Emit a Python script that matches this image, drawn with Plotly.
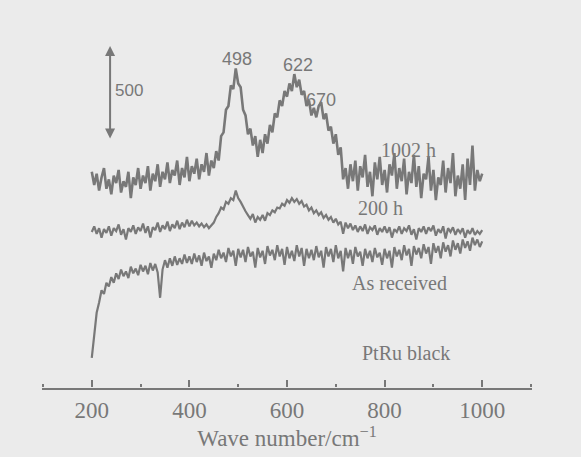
import plotly.graph_objects as go

# Raman shift axis (cm^-1), sampled every 5 cm^-1 from 200 to 1000
wavenumber = list(range(200, 1001, 5))

# Intensity (counts, vertically offset traces)
h1002 = [
    1150, 1080, 1140, 1050, 1120, 1170, 1060, 1110, 1030, 1130,
    1090, 1160, 1040, 1100, 1070, 1150, 1010, 1120, 1080, 1170,
    1060, 1130, 1090, 1180, 1050, 1140, 1100, 1190, 1070, 1150,
    1110, 1200, 1090, 1160, 1130, 1210, 1080, 1170, 1120, 1230,
    1100, 1180, 1140, 1220, 1110, 1190, 1150, 1250, 1130, 1210,
    1170, 1260, 1210, 1340, 1360, 1480, 1500, 1610, 1590, 1700,
    1620, 1600, 1480, 1450, 1350, 1380, 1290, 1340, 1230, 1320,
    1250, 1350, 1300, 1400, 1360, 1460, 1440, 1530, 1500, 1580,
    1550, 1620, 1580, 1670, 1600, 1640, 1560, 1580, 1500, 1530,
    1450, 1490, 1440, 1500, 1520, 1430, 1460, 1370, 1390, 1300,
    1350, 1240, 1280, 1110, 1170, 1060, 1190, 1100, 1210, 1050,
    1180, 1120, 1240, 1070, 1150, 1020, 1200, 1110, 1230, 1080,
    1160, 1040, 1190, 1130, 1250, 1060, 1170, 1100, 1220, 1030,
    1150, 1090, 1240, 1070, 1180, 1010, 1140, 1110, 1230, 1050,
    1160, 1000, 1120, 1080, 1210, 1040, 1170, 1090, 1250, 1020,
    1130, 1060, 1190, 1000, 1220, 1080, 1290, 1050, 1160, 1100,
    1140,
]

h200 = [
    830, 860, 820, 850, 800, 845, 825, 860, 810, 850,
    835, 870, 815, 845, 790, 850, 830, 865, 820, 855,
    835, 875, 825, 860, 800, 855, 840, 880, 830, 865,
    845, 885, 835, 870, 850, 890, 845, 880, 855, 895,
    860, 890, 865, 880, 860, 875, 855, 870, 850, 865,
    880, 910, 930, 960, 950, 990, 980, 1010, 1000, 1050,
    1010, 990, 960, 940, 920, 900, 925, 880, 910, 895,
    920, 890, 930, 920, 945, 935, 960, 955, 980, 970,
    1000, 985, 1010, 990, 1005, 980, 995, 965, 975, 945,
    960, 930, 945, 920, 935, 905, 920, 895, 910, 880,
    900, 870, 885, 820, 880, 850, 875, 840, 865, 830,
    860, 835, 870, 820, 855, 840, 865, 815, 850, 830,
    860, 825, 855, 800, 845, 830, 860, 820, 850, 835,
    865, 815, 845, 790, 850, 830, 860, 820, 855, 835,
    865, 810, 845, 825, 860, 795, 850, 830, 855, 815,
    845, 825, 850, 800, 840, 820, 850, 815, 835, 820,
    840,
]

as_received = [
    160, 270, 400, 455, 520, 500, 560, 540, 590, 560,
    610, 580, 630, 595, 620, 585, 645, 610, 635, 600,
    655, 620, 650, 605, 665, 625, 660, 615, 480, 630,
    680, 640, 690, 650, 700, 655, 690, 660, 710, 665,
    700, 660, 715, 670, 705, 650, 720, 675, 700, 640,
    715, 680, 735, 690, 720, 670, 745, 700, 730, 650,
    740, 695, 735, 670, 750, 700, 725, 640, 745, 695,
    730, 660, 755, 705, 735, 680, 760, 700, 740, 655,
    750, 690, 730, 675, 760, 700, 745, 650, 740, 690,
    735, 680, 755, 695, 730, 640, 750, 700, 740, 670,
    760, 690, 730, 620, 745, 690, 735, 660, 750, 700,
    725, 650, 740, 690, 730, 670, 745, 695, 720, 655,
    740, 690, 730, 640, 750, 700, 735, 680, 760, 705,
    740, 650, 755, 710, 745, 690, 765, 715, 750, 660,
    770, 720, 755, 690, 775, 725, 760, 700, 785, 735,
    770, 715, 790, 745, 780, 730, 800, 760, 790, 750,
    780,
]

assert len(h1002) == len(wavenumber) == len(h200) == len(as_received)

series_names = ["1002 h", "200 h", "As received"]
series_widths = [2.6, 2.2, 2.2]
peak_positions = [498, 622, 670]
peak_labels = ["498", "622", "670"]
major_ticks = [200, 400, 600, 800, 1000]
minor_ticks = [100, 300, 500, 700, 900, 1100]
scale_bar_counts = 500

INK = "#787878"
BG = "#ebebeb"
SERIF = "Liberation Serif, Times New Roman, serif"
SANS = "Liberation Sans, Arial, sans-serif"
X_RANGE = [98, 1102]
X_DOMAIN = [42 / 581, 532 / 581]

fig = go.Figure()
for name, ys, w in zip(series_names, [h1002, h200, as_received], series_widths):
    fig.add_trace(go.Scatter(x=wavenumber, y=ys, mode="lines", name=name,
                             line=dict(color=INK, width=w)))

# empty trace that registers the thin tick-strip subplot (x2/y2)
fig.add_trace(go.Scatter(x=[], y=[], xaxis="x2", yaxis="y2", mode="lines",
                         showlegend=False, hoverinfo="skip"))

# peak labels
peak_y = [1750, 1718, 1532]
for px, lab, py in zip(peak_positions, peak_labels, peak_y):
    fig.add_annotation(x=px, y=py, text=lab, showarrow=False,
                       font=dict(family=SANS, size=18, color=INK))

# series labels
label_xy = [(848, 1266), (791, 957), (830, 558)]
for (lx, ly), name in zip(label_xy, series_names):
    fig.add_annotation(x=lx, y=ly, text=name, showarrow=False,
                       font=dict(family=SERIF, size=20, color=INK))
fig.add_annotation(x=844, y=186, text="PtRu black", showarrow=False,
                   font=dict(family=SERIF, size=20, color=INK))

# 500-count scale bar
bar_x = 237.5
bar_top = 1819
fig.add_annotation(x=bar_x, y=bar_top, ax=bar_x, ay=bar_top - scale_bar_counts,
                   xref="x", yref="y", axref="x", ayref="y", text="",
                   showarrow=True, arrowhead=2, startarrowhead=2,
                   arrowside="end+start", arrowsize=1, arrowwidth=2,
                   arrowcolor=INK)
fig.add_annotation(x=276, y=1585, text=str(scale_bar_counts), showarrow=False,
                   font=dict(family=SANS, size=17, color=INK))

fig.update_layout(
    width=581, height=457,
    margin=dict(l=0, r=0, t=0, b=69),
    paper_bgcolor=BG, plot_bgcolor=BG,
    showlegend=False,
    xaxis=dict(
        domain=X_DOMAIN, range=X_RANGE,
        showline=True, linecolor=INK, linewidth=2,
        showgrid=False, zeroline=False,
        tickmode="array", tickvals=major_ticks,
        ticktext=[str(v) for v in major_ticks],
        ticks="", tickfont=dict(family=SERIF, size=23, color=INK),
        title=dict(text="Wave number/cm<sup>−1</sup>", standoff=4,
                   font=dict(family=SERIF, size=23, color=INK)),
    ),
    yaxis=dict(domain=[0, 1], range=[0, 2064], visible=False,
               showgrid=False, zeroline=False),
    # tick strip: a top-side axis sitting on the bottom edge, ticks point up
    xaxis2=dict(
        domain=X_DOMAIN, range=X_RANGE, anchor="y2", side="top",
        showline=False, showgrid=False, zeroline=False,
        tickmode="array", tickvals=major_ticks, showticklabels=False,
        ticks="outside", ticklen=7, tickwidth=2, tickcolor=INK,
        minor=dict(tickmode="array", tickvals=minor_ticks, ticks="outside",
                   ticklen=3, tickwidth=2, tickcolor=INK, showgrid=False),
    ),
    yaxis2=dict(domain=[0, 0.001], anchor="x2", visible=False,
                showgrid=False, zeroline=False),
)

fig.write_html("out.html")
